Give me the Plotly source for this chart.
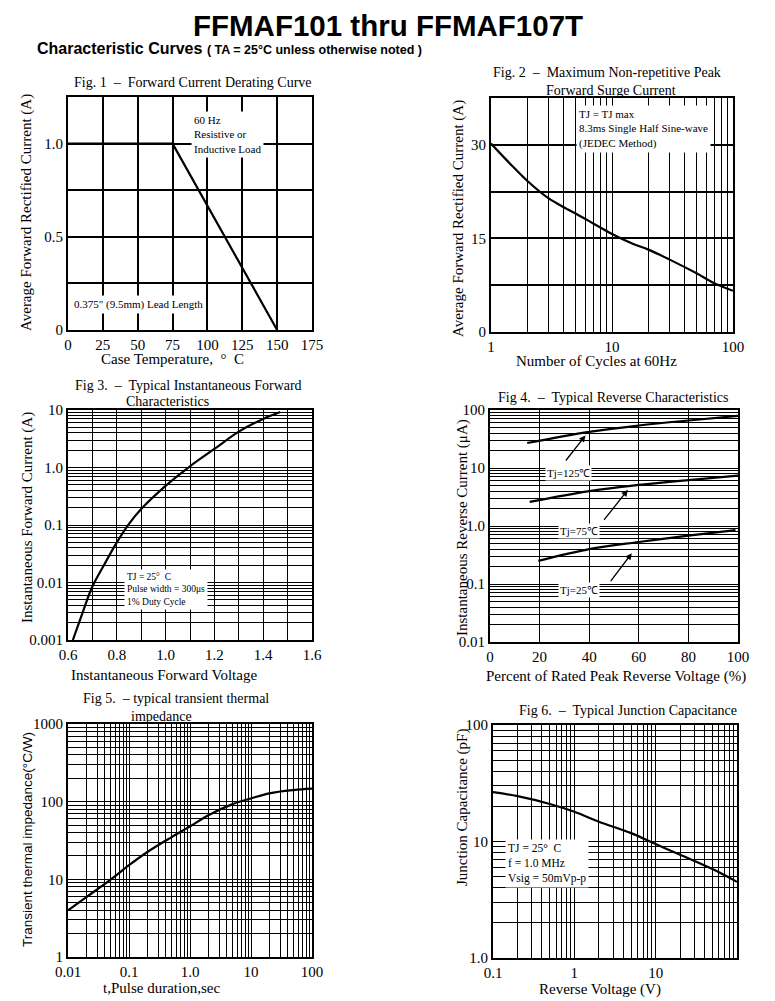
import numpy as np
import plotly.graph_objects as go

# ---------------- data ----------------
fig1_temp = [0, 75, 150]
fig1_current = [1.0, 1.0, 0.0]

fig2_cycles = [1, 1.5, 2, 3, 4, 5, 7, 10, 15, 20, 30, 50, 70, 100]
fig2_current = [30.2, 26.6, 24.2, 21.4, 20.0, 19.0, 17.4, 15.7, 14.1, 13.2, 11.6, 9.4, 7.8, 6.6]

fig3_voltage = [0.62, 0.66, 0.70, 0.75, 0.80, 0.85, 0.90, 1.0, 1.1, 1.2, 1.3, 1.4, 1.47]
fig3_current = [0.001, 0.003, 0.0085, 0.021, 0.05, 0.105, 0.19, 0.48, 1.05, 2.1, 4.2, 7.0, 9.2]

fig4_pct_125 = [15, 40, 60, 80, 100]
fig4_ir_125 = [27, 42, 54, 66, 79]
fig4_pct_75 = [16, 40, 60, 80, 100]
fig4_ir_75 = [2.6, 4.0, 5.1, 6.2, 7.4]
fig4_pct_25 = [19.5, 40, 60, 80, 99]
fig4_ir_25 = [0.25, 0.40, 0.53, 0.68, 0.85]

fig5_time = [0.01, 0.02, 0.05, 0.1, 0.2, 0.5, 1, 2, 5, 10, 20, 50, 100]
fig5_z = [4.0, 5.9, 9.9, 15.2, 22.5, 35, 48, 67, 93, 110, 128, 141, 147]

fig6_voltage = [0.1, 0.2, 0.5, 1, 2, 5, 10, 20, 50, 100]
fig6_cap = [26.5, 24.5, 21.0, 18.0, 14.8, 11.8, 9.5, 7.7, 5.8, 4.5]

fig1_xticks = [0, 25, 50, 75, 100, 125, 150, 175]
fig1_yticks = [0, 0.25, 0.5, 0.75, 1.0, 1.25]
fig1_ylabels = ["0", "", "0.5", "", "1.0", ""]
fig2_yticks = [0, 7.5, 15, 22.5, 30, 37.5]
fig2_ylabels = ["0", "", "15", "", "30", ""]
fig3_xticks = [0.6, 0.7, 0.8, 0.9, 1.0, 1.1, 1.2, 1.3, 1.4, 1.5, 1.6]
fig3_xlabels = ["0.6", "", "0.8", "", "1.0", "", "1.2", "", "1.4", "", "1.6"]
fig4_xticks = [0, 20, 40, 60, 80, 100]

# page body has an 8px margin: size the figure so it fills the window exactly
OFF = 8
W, H = 775 - OFF, 1001 - OFF
SERIF = "Liberation Serif, Times New Roman, serif"
SANS = "Liberation Sans, Arial, sans-serif"


def px(x):
    return (x - OFF) / W


def py(y):
    return 1 - (y - OFF) / H


def log_grid(lo, hi, labels):
    vals, texts = [], []
    for e in range(lo, hi + 1):
        for m in range(1, 10):
            if e == hi and m > 1:
                break
            v = m * 10.0 ** e
            vals.append(v)
            texts.append(labels.get(e, "") if m == 1 else "")
    return vals, texts


fig = go.Figure()
line = dict(color="black", width=2.2)
fig.add_trace(go.Scatter(x=fig1_temp, y=fig1_current, mode="lines", line=line, xaxis="x", yaxis="y"))
fig.add_trace(go.Scatter(x=fig2_cycles, y=fig2_current, mode="lines", line=dict(line, shape="spline"), xaxis="x2", yaxis="y2"))
fig.add_trace(go.Scatter(x=fig3_voltage, y=fig3_current, mode="lines", line=dict(line, shape="spline"), xaxis="x3", yaxis="y3"))
for xs, ys in [(fig4_pct_125, fig4_ir_125), (fig4_pct_75, fig4_ir_75), (fig4_pct_25, fig4_ir_25)]:
    fig.add_trace(go.Scatter(x=xs, y=ys, mode="lines", line=dict(line, shape="spline"), xaxis="x4", yaxis="y4"))
fig.add_trace(go.Scatter(x=fig5_time, y=fig5_z, mode="lines", line=dict(line, shape="spline"), xaxis="x5", yaxis="y5"))
fig.add_trace(go.Scatter(x=fig6_voltage, y=fig6_cap, mode="lines", line=dict(line, shape="spline"), xaxis="x6", yaxis="y6"))

base = dict(showline=True, linecolor="black", linewidth=2, mirror=True,
            showgrid=True, gridcolor="black", gridwidth=1.3, zeroline=False,
            ticks="", tickfont=dict(family=SERIF, size=15, color="black"),
            ticklabelstandoff=0, fixedrange=True, automargin=False)

domains = {
    1: ([68, 312], [97, 330]),
    2: ([491, 733], [98, 332]),
    3: ([68, 312], [410, 640]),
    4: ([490, 738], [410, 642]),
    5: ([68, 312], [724, 957]),
    6: ([493, 737], [725, 958]),
}


def dom(i):
    (x0, x1), (y0, y1) = domains[i]
    return [px(x0), px(x1)], [py(y1), py(y0)]


x2v, x2t = log_grid(0, 2, {0: "1", 1: "10", 2: "100"})
y3v, y3t = log_grid(-3, 1, {-3: "0.001", -2: "0.01", -1: "0.1", 0: "1.0", 1: "10"})
y4v, y4t = log_grid(-2, 2, {-2: "0.01", -1: "0.1", 0: "1.0", 1: "10", 2: "100"})
x5v, x5t = log_grid(-2, 2, {-2: "0.01", -1: "0.1", 0: "1.0", 1: "10", 2: "100"})
y5v, y5t = log_grid(0, 3, {0: "1", 1: "10", 2: "100", 3: "1000"})
x6v, x6t = log_grid(-1, 2, {-1: "0.1", 0: "1", 1: "10"})
y6v, y6t = log_grid(0, 2, {0: "1.0", 1: "10", 2: "100"})

axes = {}
d = dom(1)
axes["xaxis"] = dict(base, domain=d[0], anchor="y", range=[0, 175], tickvals=fig1_xticks, gridwidth=1.8)
axes["yaxis"] = dict(base, domain=d[1], anchor="x", range=[0, 1.25], tickvals=fig1_yticks, ticktext=fig1_ylabels, gridwidth=1.8)
d = dom(2)
axes["xaxis2"] = dict(base, domain=d[0], anchor="y2", type="log", range=[0, 2], tickvals=x2v, ticktext=x2t)
axes["yaxis2"] = dict(base, domain=d[1], anchor="x2", range=[0, 37.5], tickvals=fig2_yticks, ticktext=fig2_ylabels, gridwidth=1.8)
d = dom(3)
axes["xaxis3"] = dict(base, domain=d[0], anchor="y3", range=[0.6, 1.6], tickvals=fig3_xticks, ticktext=fig3_xlabels)
axes["yaxis3"] = dict(base, domain=d[1], anchor="x3", type="log", range=[-3, 1], tickvals=y3v, ticktext=y3t)
d = dom(4)
axes["xaxis4"] = dict(base, domain=d[0], anchor="y4", range=[0, 100], tickvals=fig4_xticks)
axes["yaxis4"] = dict(base, domain=d[1], anchor="x4", type="log", range=[-2, 2], tickvals=y4v, ticktext=y4t)
d = dom(5)
axes["xaxis5"] = dict(base, domain=d[0], anchor="y5", type="log", range=[-2, 2], tickvals=x5v, ticktext=x5t)
axes["yaxis5"] = dict(base, domain=d[1], anchor="x5", type="log", range=[0, 3], tickvals=y5v, ticktext=y5t)
d = dom(6)
axes["xaxis6"] = dict(base, domain=d[0], anchor="y6", type="log", range=[-1, 2], tickvals=x6v, ticktext=x6t)
axes["yaxis6"] = dict(base, domain=d[1], anchor="x6", type="log", range=[0, 2], tickvals=y6v, ticktext=y6t)

ann = []


def text(x, y, s, size=14, family=SERIF, angle=0, xanchor="center", yanchor="middle", **kw):
    ann.append(dict(x=px(x), y=py(y), xref="paper", yref="paper", text=s, showarrow=False,
                    font=dict(family=family, size=size, color="black"), textangle=angle,
                    xanchor=xanchor, yanchor=yanchor, **kw))


# headers
text(388, 8, "<b>FFMAF101 thru FFMAF107T</b>", size=29.5, family=SANS, yanchor="top", borderpad=0)
text(35, 48, "<b>Characteristic Curves</b> <b><span style='font-size:12.5px'>( TA = 25°C unless otherwise noted )</span></b>",
     size=16, family=SANS, xanchor="left")

# subplot titles
text(193, 82, "Fig. 1  –  Forward Current Derating Curve")
text(607, 73, "Fig. 2  –  Maximum Non-repetitive Peak")
text(611, 90, "Forward Surge Current")
text(188, 385, "Fig 3.  –  Typical Instantaneous Forward")
text(167, 402, "Characteristics")
text(613, 397, "Fig 4.  –  Typical Reverse Characteristics")
text(176, 698, "Fig 5.  – typical transient thermal")
text(161, 716, "impedance")
text(628, 710, "Fig 6.  –  Typical Junction Capacitance")

# axis titles
text(172, 359, "Case Temperature,  °  C", size=15)
text(596, 361, "Number of Cycles at 60Hz", size=15)
text(164, 675, "Instantaneous Forward Voltage", size=15)
text(616, 676, "Percent of Rated Peak Reverse Voltage (%)", size=15)
text(161, 988, "t,Pulse duration,sec", size=15)
text(600, 989, "Reverse Voltage (V)", size=15)
text(27, 213, "Average Forward Rectified Current (A)", size=15, angle=-90)
text(458, 219, "Average Forward Rectified Current (A)", size=15, angle=-90)
text(27, 518, "Instantaneous Forward Current (A)", size=15, angle=-90)
text(462, 528, "Instantaneous Reverse Current (μA)", size=15, angle=-90)
text(27, 840, "Transient thermal impedance(°C/W)", size=13.5, family=SANS, angle=-90)
text(462, 808, "Junction Capacitance (pF)", size=15, angle=-90)

# condition boxes
text(191, 111, "60 Hz<br>Resistive or<br>Inductive Load", size=11, xanchor="left", yanchor="top",
     align="left", bgcolor="white", borderpad=2)
text(71, 304, "0.375\" (9.5mm) Lead Length", size=11, xanchor="left", bgcolor="white", borderpad=2)
text(576, 105, "TJ = TJ max<br>8.3ms Single Half Sine-wave<br>(JEDEC Method)", size=11, xanchor="left",
     yanchor="top", align="left", bgcolor="white", borderpad=2)
text(124, 569, "TJ = 25°  C<br>Pulse width = 300μs<br>1% Duty Cycle", size=9.5, xanchor="left",
     yanchor="top", align="left", bgcolor="white", borderpad=2)
text(505, 839, "TJ = 25°  C<br>f = 1.0 MHz<br>Vsig = 50mVp-p", size=11.5, xanchor="left",
     yanchor="top", align="left", bgcolor="white", borderpad=2)

# Fig 4 labels with arrows (data coords on log axis use log10)
for lab, (lx, ly), (tx, ty), (hx, hy) in [
    ("Tj=125℃", (31.7, 8.3), (30.1, 12.7), (38.5, 36.4)),
    ("Tj=75℃", (35.8, 0.81), (45.5, 1.2), (55.6, 4.2)),
    ("Tj=25℃", (35.8, 0.079), (48.2, 0.106), (57.2, 0.34)),
]:
    ann.append(dict(x=lx, y=np.log10(ly), xref="x4", yref="y4", text=lab, showarrow=False,
                    font=dict(family=SERIF, size=11, color="black"), bgcolor="white", borderpad=1))
    ann.append(dict(x=hx, y=np.log10(hy), xref="x4", yref="y4", ax=tx, ay=np.log10(ty),
                    axref="x4", ayref="y4", text="", showarrow=True, arrowhead=2, arrowsize=1,
                    arrowwidth=1.3, arrowcolor="black"))

fig.update_layout(
    width=W, height=H, margin=dict(l=0, r=0, t=0, b=0, autoexpand=False),
    paper_bgcolor="white", plot_bgcolor="white", showlegend=False,
    annotations=ann, **axes,
)

fig.write_html("out.html")
